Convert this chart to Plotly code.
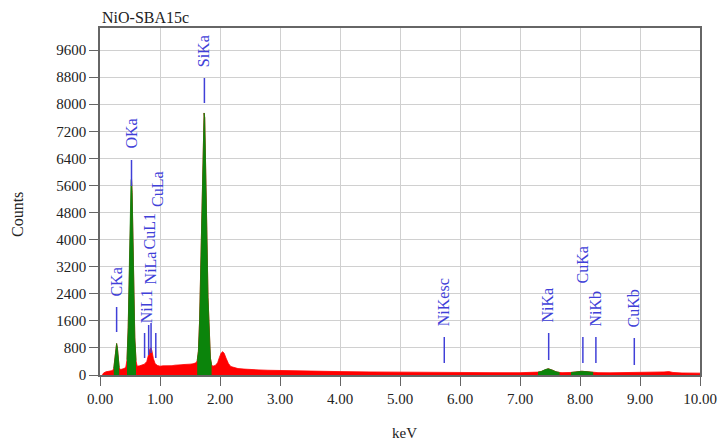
import plotly.graph_objects as go

# ---- EDS spectrum of NiO-SBA15c (energy in keV, counts) ----
energy_keV = [
    0.04, 0.06, 0.10, 0.14, 0.18, 0.21,
    0.23, 0.25, 0.265, 0.277, 0.29, 0.305, 0.32,
    0.34, 0.37, 0.40, 0.43,
    0.45, 0.47, 0.49, 0.505, 0.518, 0.525, 0.535, 0.55, 0.565, 0.58, 0.60,
    0.62, 0.66, 0.70, 0.74, 0.78, 0.81, 0.835, 0.85, 0.865, 0.89, 0.92,
    0.96, 1.00, 1.05, 1.10, 1.15, 1.20, 1.25, 1.30, 1.35, 1.40, 1.45, 1.50, 1.55, 1.60,
    1.62, 1.64, 1.66, 1.68, 1.70, 1.72, 1.735, 1.745, 1.76, 1.78, 1.80, 1.82, 1.84, 1.86,
    1.88, 1.92, 1.96, 1.99, 2.02, 2.045, 2.07, 2.10, 2.14, 2.18, 2.24, 2.30,
    2.40, 2.50, 2.65, 2.80, 3.00, 3.25, 3.50, 3.75, 4.00, 4.50, 5.00, 5.50,
    6.00, 6.50, 7.00, 7.25, 7.30, 7.35, 7.42, 7.47, 7.53, 7.60, 7.66, 7.70,
    7.85, 7.95, 8.03, 8.10, 8.20, 8.22, 8.30, 8.50, 8.70, 8.90, 9.20, 9.40,
    9.48, 9.55, 9.70, 10.00,
]
counts = [
    0, 60, 95, 105, 115, 130,
    200, 520, 820, 930, 800, 480, 220,
    160, 170, 190, 230,
    450, 1400, 3300, 5000, 5750, 5800, 5400, 4000, 2400, 1100, 420,
    260, 270, 290, 320, 400, 620, 780, 800, 720, 480, 330,
    280, 260, 270, 265, 280, 275, 290, 285, 300, 310, 305, 320, 330, 360,
    420, 700, 1600, 3400, 5600, 7200, 7740, 7600, 6500, 4300, 2300, 1100, 500, 300,
    260, 280, 360, 520, 650, 690, 640, 500, 340, 250, 210, 190,
    175, 160, 150, 140, 130, 120, 110, 105, 100, 90, 80, 75,
    72, 70, 68, 72, 85, 100, 160, 185, 150, 95, 75, 70,
    75, 95, 110, 100, 80, 78, 70, 65, 70, 65, 65, 90,
    100, 75, 60, 55,
]

# Regions of interest (keV) shaded as identified peaks
roi_start = [0.22, 0.44, 1.61, 7.30, 7.85]
roi_end = [0.33, 0.61, 1.87, 7.66, 8.22]

# Line markers: name, energy, marker bottom / top (counts), label centre (keV, counts)
line_names = ["CKa", "OKa", "SiKa", "NiL1", "CuL1", "NiLa", "CuLa",
              "NiKesc", "NiKa", "CuKa", "NiKb", "CuKb"]
line_keV = [0.277, 0.525, 1.740, 0.743, 0.811, 0.851, 0.930,
            5.738, 7.478, 8.048, 8.265, 8.905]
line_lo = [1270, 5583, 8034, 502, 591, 650, 502, 354, 443, 354, 354, 295]
line_hi = [2009, 6351, 8773, 1241, 1477, 1536, 1241, 1122, 1241, 1122, 1122, 1093]
label_keV = [0.26, 0.51, 1.72, 0.77, 0.84, 0.84, 0.95,
             5.72, 7.46, 8.04, 8.26, 8.89]
label_counts = [2747, 7119, 9570, 2038, 4254, 3160, 5494,
                2156, 2068, 3249, 1950, 1979]

x_ticks = [0, 1, 2, 3, 4, 5, 6, 7, 8, 9, 10]
x_tick_text = ["%.2f" % v for v in x_ticks]
y_ticks = list(range(0, 9601, 800))

SERIF = "Liberation Serif, Times New Roman, serif"
RED = "#ff0000"
GREEN = "#0b840b"
BLUE = "#4040d8"

fig = go.Figure()

# full spectrum in red
fig.add_trace(go.Scatter(
    x=energy_keV, y=counts, mode="lines", fill="tozeroy",
    line=dict(color=RED, width=0.8), fillcolor=RED, hoverinfo="skip",
))

# identified peak regions in green
for a, b in zip(roi_start, roi_end):
    xs = [e for e in energy_keV if a <= e <= b]
    ys = [c for e, c in zip(energy_keV, counts) if a <= e <= b]
    fig.add_trace(go.Scatter(
        x=xs, y=ys, mode="lines", fill="tozeroy",
        line=dict(color=GREEN, width=0.8), fillcolor=GREEN, hoverinfo="skip",
    ))

# element marker ticks
mx, my = [], []
for e, lo, hi in zip(line_keV, line_lo, line_hi):
    mx += [e, e, None]
    my += [lo, hi, None]
fig.add_trace(go.Scatter(
    x=mx, y=my, mode="lines", line=dict(color=BLUE, width=1.5), hoverinfo="skip",
))

# element labels
for name, lx, ly in zip(line_names, label_keV, label_counts):
    fig.add_annotation(
        x=lx, y=ly, xref="x", yref="y", text=name, showarrow=False,
        textangle=-90, xanchor="center", yanchor="middle",
        font=dict(family=SERIF, size=16, color=BLUE),
    )

# plot area in pixels: x 100..700, y 28..375
PLOT_W, PLOT_H = 600, 347

fig.add_annotation(
    x=0, y=1.0, xref="paper", yref="paper", text="NiO-SBA15c", showarrow=False,
    xanchor="left", yanchor="bottom",
    font=dict(family=SERIF, size=16, color="#222222"),
)
fig.add_annotation(
    x=(17 - 100) / PLOT_W, y=(375 - 215) / PLOT_H, xref="paper", yref="paper",
    text="Counts", showarrow=False, textangle=-90,
    xanchor="center", yanchor="middle",
    font=dict(family=SERIF, size=16, color="#222222"),
)
fig.add_annotation(
    x=(404 - 100) / PLOT_W, y=(375 - 433) / PLOT_H, xref="paper", yref="paper",
    text="keV", showarrow=False, xanchor="center", yanchor="middle",
    font=dict(family=SERIF, size=15, color="#222222"),
)

axis_common = dict(
    showgrid=True, gridcolor="#d0d0d0", gridwidth=1,
    showline=True, linecolor="#666666", linewidth=1.5, mirror=True,
    ticks="outside", ticklen=9, tickcolor="#666666", tickwidth=1,
    tickfont=dict(family=SERIF, size=15, color="#222222"),
    zeroline=False, automargin=False,
)

fig.update_layout(
    width=721, height=445,
    margin=dict(l=100, r=21, t=28, b=70, autoexpand=False),
    paper_bgcolor="white", plot_bgcolor="white",
    showlegend=False, hovermode=False,
    xaxis=dict(range=[0, 10], tickvals=x_ticks, ticktext=x_tick_text, **axis_common),
    yaxis=dict(range=[0, 10250], tickvals=y_ticks, **axis_common),
)

fig.write_html("out.html", config={"displayModeBar": False})
